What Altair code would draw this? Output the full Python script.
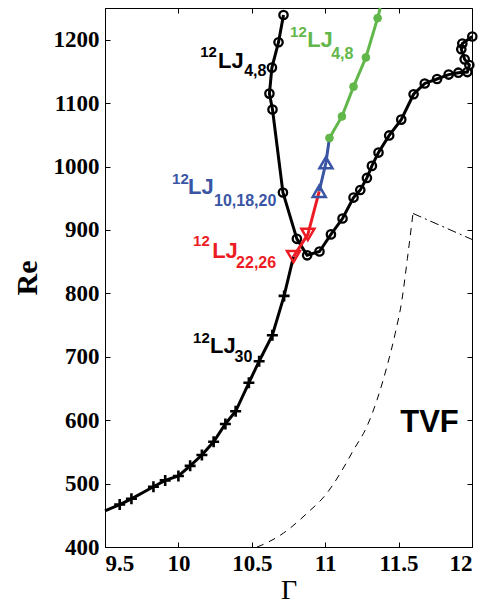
import altair as alt
import pandas as pd

# ---------------- data ----------------
# 12LJ30 branch (black line with + markers); first point = left edge, last = joins red branch
lj30_gamma = [9.50, 9.60, 9.68, 9.83, 9.91, 10.00, 10.08, 10.16, 10.24, 10.32, 10.39, 10.48, 10.55, 10.64, 10.72, 10.784]
lj30_re = [457, 467, 476, 495, 505, 512, 528, 545, 566, 594, 614, 659, 693, 734, 796, 858]
lj30_marked = [False] + [True] * 14 + [False]

# 12LJ4,8 black branch (open circles)
lj48b_gamma = [10.716, 10.682, 10.637, 10.620, 10.641, 10.712, 10.807, 10.877, 10.961, 11.039,
               11.118, 11.193, 11.239, 11.284, 11.318, 11.363, 11.436, 11.518, 11.602, 11.678,
               11.762, 11.841, 11.907, 11.968, 11.982, 11.950, 11.927, 11.934, 12.002]
lj48b_re = [1239, 1196, 1156, 1115, 1090, 959, 886, 860, 866, 893,
            918, 951, 963, 982, 1001, 1022, 1049, 1074, 1114, 1131,
            1138, 1145, 1148, 1149, 1160, 1169, 1185, 1194, 1205]

# 12LJ22,26 red branch (down triangles)
lj2226_gamma = [10.784, 10.882, 10.959]
lj2226_re = [858, 893, 961]
lj2226_marked = [True, True, False]

# 12LJ10,18,20 blue branch (up triangles)
lj101820_gamma = [10.959, 11.005, 11.029]
lj101820_re = [961, 1006, 1045]
lj101820_marked = [True, True, False]

# 12LJ4,8 green branch (filled dots)
lj48g_gamma = [11.029, 11.114, 11.193, 11.277, 11.357, 11.375]
lj48g_re = [1045, 1079, 1126, 1172, 1234, 1250]
lj48g_marked = [True, True, True, True, True, False]

# TVF boundary (dashed) and dash-dot continuation
tvf_gamma = [10.536, 10.568, 10.716, 10.875, 11.012, 11.102, 11.193, 11.284, 11.353, 11.421, 11.477, 11.523, 11.560, 11.598]
tvf_re = [400, 403, 422, 453, 485, 516, 553, 590, 632, 685, 737, 790, 855, 926]
dd_gamma = [11.598, 12.0]
dd_re = [926, 885]

# tick values
x_ticks = [9.5, 10, 10.5, 11, 11.5, 12]
y_ticks = [400, 500, 600, 700, 800, 900, 1000, 1100, 1200]

# annotation texts
lab_text = ["12", "LJ", "4,8",
            "12", "LJ", "4,8",
            "12", "LJ", "10,18,20",
            "12", "LJ", "22,26",
            "12", "LJ", "30",
            "TVF"]
lab_gamma = [10.148, 10.270, 10.448,
             10.761, 10.877, 11.041,
             9.957, 10.066, 10.243,
             10.100, 10.230, 10.393,
             10.100, 10.216, 10.383,
             11.511]
lab_re = [1172, 1156, 1142,
          1204, 1188, 1169,
          972, 956, 937,
          874, 856, 840,
          722, 706, 692,
          582]
lab_role = ["sup", "main", "sub"] * 5 + ["big"]
lab_series = ["black"] * 3 + ["green"] * 3 + ["blue"] * 3 + ["red"] * 3 + ["black"] * 3 + ["black"]

# ---------------- styling ----------------
BLACK = "#000000"
RED = "#ED1C24"
BLUE = "#3A55A4"
GREEN = "#62B74A"
colors = {"black": BLACK, "green": GREEN, "blue": BLUE, "red": RED}
sizes = {"sup": 15, "main": 22, "sub": 16, "big": 31}


def frame(g, r, marked=None):
    if marked is None:
        marked = [True] * len(g)
    return pd.DataFrame({"g": g, "re": r, "i": list(range(len(g))), "m": marked})


xs = alt.Scale(domain=[9.5, 12], nice=False, zero=False)
ys = alt.Scale(domain=[400, 1250], nice=False, zero=False)

common = dict(grid=False, domain=False, ticks=True, tickSize=5, tickWidth=1,
              tickColor="black", offset=-5, labelOverlap=False)

x_bottom = alt.Axis(orient="bottom", values=x_ticks, format="~g", labelPadding=5,
                    labelFont="Liberation Serif", labelFontWeight="bold", labelFontSize=23,
                    labelColor="black", title="Γ", titleFont="Liberation Serif",
                    titleFontWeight="normal", titleFontSize=28, titleColor="black",
                    titlePadding=1, **common)
y_left = alt.Axis(orient="left", values=y_ticks, format="d", labelPadding=6,
                  labelFont="Liberation Serif", labelFontWeight="bold", labelFontSize=23,
                  labelColor="black", title="Re", titleFont="Liberation Serif",
                  titleFontWeight="bold", titleFontSize=30, titleColor="black",
                  titlePadding=11, **common)
x_top = alt.Axis(orient="top", values=x_ticks, labels=False, title=None, **common)
y_right = alt.Axis(orient="right", values=y_ticks, labels=False, title=None, **common)


def enc(xaxis=None, yaxis=None):
    return dict(x=alt.X("g:Q", scale=xs, axis=xaxis), y=alt.Y("re:Q", scale=ys, axis=yaxis))


d30 = frame(lj30_gamma, lj30_re, lj30_marked)
d48b = frame(lj48b_gamma, lj48b_re)
d2226 = frame(lj2226_gamma, lj2226_re, lj2226_marked)
d1018 = frame(lj101820_gamma, lj101820_re, lj101820_marked)
d48g = frame(lj48g_gamma, lj48g_re, lj48g_marked)
dtvf = frame(tvf_gamma, tvf_re)
ddd = frame(dd_gamma, dd_re)

layers = []

# TVF dashed curve (carries the top/right tick axes)
layers.append(alt.Chart(dtvf).mark_line(color=BLACK, strokeWidth=1, strokeDash=[7, 6],
                                        interpolate="monotone").encode(
    order="i:Q", **enc(x_top, y_right)))
layers.append(alt.Chart(ddd).mark_line(color=BLACK, strokeWidth=1, strokeDash=[9, 4, 2, 4]).encode(
    order="i:Q", **enc()))

# LJ30 black line + crosses (carries the bottom/left axes)
layers.append(alt.Chart(d30).mark_line(color=BLACK, strokeWidth=3).encode(order="i:Q", **enc(x_bottom, y_left)))
layers.append(alt.Chart(d30).transform_filter("datum.m").mark_point(
    shape="M-1,0H1M0,-1V1", size=121, filled=False, stroke=BLACK, strokeWidth=2.6, opacity=1).encode(**enc()))

# black LJ4,8 with open circles
layers.append(alt.Chart(d48b).mark_line(color=BLACK, strokeWidth=3).encode(order="i:Q", **enc()))
layers.append(alt.Chart(d48b).mark_point(
    shape="circle", size=70, filled=False, stroke=BLACK, strokeWidth=2.3, opacity=1).encode(**enc()))

# red LJ22,26
layers.append(alt.Chart(d2226).mark_line(color=RED, strokeWidth=3).encode(order="i:Q", **enc()))
layers.append(alt.Chart(d2226).transform_filter("datum.m").mark_point(
    shape="triangle-down", size=170, filled=False, stroke=RED, strokeWidth=2.5, opacity=1).encode(**enc()))

# blue LJ10,18,20
layers.append(alt.Chart(d1018).mark_line(color=BLUE, strokeWidth=3).encode(order="i:Q", **enc()))
layers.append(alt.Chart(d1018).transform_filter("datum.m").mark_point(
    shape="triangle-up", size=170, filled=False, stroke=BLUE, strokeWidth=2.5, opacity=1).encode(**enc()))

# green LJ4,8
layers.append(alt.Chart(d48g).mark_line(color=GREEN, strokeWidth=3).encode(order="i:Q", **enc()))
layers.append(alt.Chart(d48g).transform_filter("datum.m").mark_point(
    shape="circle", size=60, filled=True, fill=GREEN, stroke=GREEN, strokeWidth=1, opacity=1).encode(**enc()))

# annotations
labels = pd.DataFrame({
    "t": lab_text, "g": lab_gamma, "re": lab_re,
    "c": [colors[s] for s in lab_series],
    "s": [sizes[r] for r in lab_role],
})
layers.append(alt.Chart(labels).mark_text(
    font="Liberation Sans", fontWeight="bold", align="left", baseline="alphabetic").encode(
    text="t:N", color=alt.Color("c:N", scale=None), size=alt.Size("s:Q", scale=None), **enc()))

chart = alt.layer(*layers).resolve_axis(x="independent", y="independent").properties(
    width=367, height=539,
    padding={"left": 105, "top": 8, "right": 17, "bottom": 56},
    autosize=alt.AutoSizeParams(type="none"),
    background="white",
).configure_view(stroke="black", strokeWidth=1)

chart.save("out.html", embed_options={"renderer": "svg", "actions": False})
